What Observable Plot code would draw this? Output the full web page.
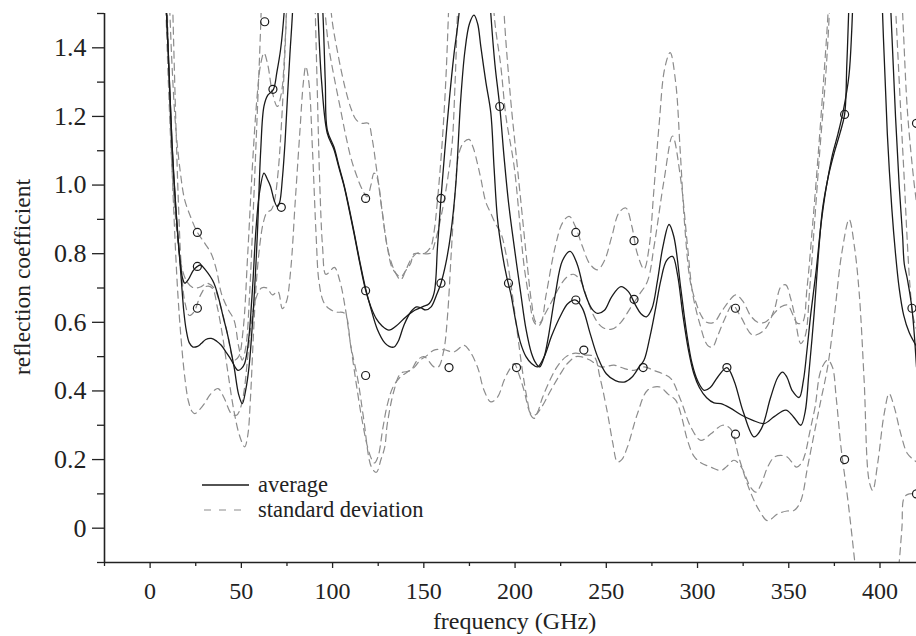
<!DOCTYPE html>
<html><head><meta charset="utf-8">
<script src="https://cdn.jsdelivr.net/npm/d3@7"></script>
<script src="https://cdn.jsdelivr.net/npm/@observablehq/plot@0.6"></script>
<style>body{margin:0;background:#fff}#chart{width:916px;height:636px}</style>
</head><body><div id="chart"></div>
<script>
// solid "average" curves: [frequency GHz, reflection coefficient]
const averageA = [[8,1.62],[10,1.38],[12,1.12],[14,0.94],[16,0.8],[17.7,0.73],[19,0.714],[21,0.725],[23.5,0.75],[25.9,0.763],[27.7,0.767],[30,0.755],[35,0.714],[40.5,0.606],[42.3,0.568],[46,0.47],[48.5,0.39],[50.5,0.363],[52.3,0.4],[54.2,0.47],[56.9,0.665],[58.8,0.86],[60.6,1.1],[62.4,1.23],[64.5,1.262],[67.5,1.278],[69.5,1.33],[71.5,1.395],[73.4,1.5],[76,1.75],[80,2.1],[84,2.2],[88,1.95],[90.5,1.7],[92,1.5],[94,1.3],[97.1,1.151],[100.8,1.103],[103.5,1.05],[106.3,0.996],[109,0.93],[111.7,0.86],[115,0.77],[118.1,0.694],[121,0.645],[124,0.61],[127,0.59],[130.9,0.577],[135,0.59],[140,0.615],[145,0.635],[149.2,0.645],[153,0.655],[155.6,0.685],[157.5,0.82],[159.4,0.96],[161.5,1.1],[164,1.25],[166.5,1.38],[169.3,1.5],[172,1.72],[176,1.95],[180,2.0],[183,1.85],[185,1.65],[186.7,1.5],[189,1.35],[191.6,1.229],[194,1.08],[196.4,0.95],[199.5,0.822],[203.1,0.685],[206,0.58],[209,0.51],[211.5,0.48],[213.5,0.47],[216,0.5],[218,0.55],[222,0.68],[226,0.78],[230.2,0.807],[234,0.77],[238,0.69],[242,0.64],[245.2,0.626],[249,0.635],[253,0.675],[258,0.704],[262,0.69],[266,0.65],[269,0.625],[272,0.616],[275,0.64],[278,0.72],[281,0.82],[284.4,0.885],[287,0.85],[290.8,0.7],[294,0.57],[297,0.48],[300,0.43],[303.6,0.402],[307,0.41],[311,0.44],[316.1,0.468],[320,0.43],[325,0.34],[331,0.266],[335,0.29],[340,0.38],[344,0.44],[346.6,0.455],[349,0.44],[352,0.4],[355.7,0.381],[358,0.43],[360,0.52],[362.1,0.626],[365,0.75],[368,0.9],[371.3,1.016],[374.9,1.094],[378,1.15],[380.6,1.206],[381.8,1.35],[382.8,1.5],[384,1.8],[388,2.4],[395,2.6],[399,1.9],[401.4,1.5],[404,1.15],[406.5,0.93],[408.5,0.8],[410.5,0.7],[413,0.62],[416,0.57],[420,0.53]];
const averageB = [[8,1.62],[10,1.38],[12,1.12],[14,0.94],[16,0.8],[17.1,0.723],[18.5,0.63],[19.8,0.577],[21.5,0.54],[23.5,0.528],[26,0.53],[28,0.538],[30.5,0.55],[33.5,0.553],[36.5,0.545],[39,0.533],[42,0.51],[44.5,0.49],[46.5,0.47],[48.1,0.46],[50,0.465],[51.8,0.48],[53.3,0.52],[54.5,0.577],[55.5,0.65],[56.4,0.723],[58,0.87],[60,0.98],[62.4,1.035],[64,1.02],[66,0.996],[68,0.955],[69.7,0.937],[71,0.95],[72.5,1.02],[74,1.13],[75.2,1.249],[76.6,1.38],[78,1.5],[80,1.75],[84,2.0],[88,2.05],[91,1.85],[93,1.65],[94.7,1.5],[96,1.3],[97.1,1.16],[100.8,1.11],[103.5,1.055],[106.3,1.0],[109,0.935],[111.7,0.865],[115,0.775],[118.1,0.698],[121,0.64],[124.5,0.58],[128.6,0.54],[131,0.53],[133.7,0.528],[136,0.545],[139,0.59],[142.8,0.63],[146,0.645],[148.5,0.642],[151,0.636],[154,0.645],[157,0.68],[159.4,0.714],[162,0.77],[164.8,0.86],[167.5,1.0],[170.2,1.248],[172.5,1.39],[175,1.47],[177.5,1.495],[179.5,1.47],[181.2,1.405],[184,1.3],[186.7,1.211],[188.5,1.05],[190.4,0.9],[193,0.8],[195.5,0.73],[197.6,0.685],[200.5,0.6],[203,0.54],[206,0.5],[209,0.48],[212.3,0.47],[216,0.5],[220,0.56],[225,0.62],[229,0.655],[233.3,0.665],[237,0.64],[241,0.57],[245.2,0.5],[250,0.45],[255,0.43],[259.8,0.426],[264,0.44],[268,0.47],[270.7,0.49],[274,0.56],[277,0.64],[279.9,0.723],[283,0.78],[286.3,0.792],[289,0.74],[292,0.62],[295,0.52],[298,0.45],[301,0.41],[305,0.38],[309,0.365],[312.8,0.363],[318,0.35],[324,0.33],[330,0.315],[336.5,0.305],[342,0.325],[348.4,0.344],[352.5,0.325],[356.6,0.3],[359,0.34],[361,0.45],[363.9,0.626],[366,0.78],[368.5,0.93],[371.3,1.016],[374,1.09],[377,1.15],[380,1.22],[383,1.32],[384.5,1.45],[385.5,1.6],[388,2.0],[396,2.2],[402,2.0],[404,1.7],[406,1.5],[408.5,1.2],[410.5,1.0],[412.4,0.85],[413.3,0.77],[415.1,0.723],[417.5,0.641],[420,0.47]];
// dashed "standard deviation" curves
const upperA = [[10,1.62],[12,1.35],[14,1.17],[16.5,1.04],[18.9,0.958],[22,0.91],[25.9,0.862],[30,0.83],[33.5,0.8],[36.5,0.75],[39,0.685],[42.5,0.64],[46,0.606],[48.5,0.53],[50.5,0.49],[52.5,0.53],[54.5,0.68],[56.5,0.92],[58.5,1.18],[60.5,1.45],[62,1.7],[66,2.2],[80,2.5],[94,2.2],[97,1.75],[99.3,1.5],[103,1.38],[107,1.28],[110.3,1.22],[113,1.19],[116,1.18],[119.5,1.18],[121.5,1.14],[124,1.05],[127,0.93],[130,0.82],[133,0.755],[137.3,0.733],[140,0.75],[142.8,0.772],[144.6,0.8],[150.1,0.8],[153.8,0.82],[155.5,0.86],[157.5,0.957],[160,1.12],[162,1.3],[163.5,1.5],[165,1.75],[175,2.3],[190,2.1],[192.5,1.75],[194,1.5],[197.6,1.249],[200,1.12],[203.1,0.956],[206.8,0.762],[209,0.66],[211.5,0.6],[214,0.6],[217,0.68],[222,0.82],[226,0.89],[229.6,0.909],[233,0.88],[237,0.82],[241,0.77],[245.2,0.753],[249,0.78],[253,0.85],[257,0.92],[260.7,0.933],[264,0.88],[267,0.8],[270.7,0.755],[273.5,0.82],[276,0.98],[279,1.18],[282,1.34],[285,1.386],[288,1.3],[290.5,1.1],[293,0.88],[296,0.72],[299,0.66],[302,0.62],[305,0.6],[309,0.6],[313,0.63],[317,0.66],[321,0.68],[325,0.66],[329,0.62],[333,0.6],[337,0.6],[341,0.62],[345.7,0.645],[349.3,0.65],[354.8,0.597],[357.5,0.6],[360,0.7],[363,0.88],[366,1.08],[369,1.3],[371.5,1.5],[373.5,1.75],[385,2.5],[400,2.5],[406,1.8],[408.7,1.5],[411.4,1.21],[413.3,1.015],[415.1,0.82],[416.5,0.7],[418,0.62],[420,0.58]];
const upperB = [[8,1.62],[10,1.3],[12,1.05],[14,0.9],[17,0.77],[20,0.72],[24,0.7],[28,0.704],[31,0.714],[35,0.7],[39,0.64],[42.3,0.568],[46,0.49],[48.5,0.5],[51,0.58],[53.5,0.8],[56,1.05],[58.5,1.25],[60.5,1.35],[62.4,1.385],[64.5,1.35],[67,1.27],[69.7,1.229],[72,1.27],[74,1.42],[75.5,1.6],[80,2.2],[90,2.3],[94,1.75],[96,1.5],[98,1.4],[101,1.31],[104,1.23],[107,1.15],[110,1.08],[113,1.03],[116,0.99],[119,0.966],[121,1.0],[122.7,1.035],[124.5,1.02],[127,0.93],[130,0.82],[133.7,0.753],[137.3,0.724],[140,0.75],[142.8,0.782],[146.5,0.802],[150,0.8],[153.8,0.802],[156.5,0.841],[160.2,0.928],[163,1.016],[165.5,1.12],[167,1.28],[168.4,1.5],[170,1.8],[180,2.4],[186,1.9],[188.5,1.5],[192.2,1.346],[195,1.2],[199.5,1.054],[203.1,0.86],[205,0.762],[208,0.66],[210.5,0.6],[213,0.59],[216,0.62],[220,0.66],[224,0.7],[228,0.73],[232,0.74],[236,0.72],[240,0.66],[244,0.61],[248,0.585],[253,0.58],[258,0.6],[263,0.64],[268,0.68],[272.6,0.72],[276.2,0.822],[281.7,1.016],[286.3,1.143],[290.8,1.016],[294.5,0.822],[297.3,0.685],[301,0.6],[305.5,0.533],[308.2,0.528],[311,0.56],[314.6,0.606],[319.2,0.65],[323.7,0.616],[330.2,0.563],[336.5,0.577],[342,0.636],[345.7,0.704],[348.4,0.709],[351,0.67],[353,0.626],[356.6,0.538],[359,0.56],[361.5,0.7],[364,0.88],[367,1.1],[370,1.3],[372.2,1.5],[374,1.8],[390,2.5],[405,2.3],[410,1.75],[412.4,1.5],[415.1,1.21],[418.8,1.0],[420,0.95]];
const lowerA = [[12,1.6],[14,1.2],[15.5,0.95],[17,0.77],[19,0.66],[21.5,0.62],[24,0.63],[27.7,0.68],[31,0.705],[34,0.7],[37,0.64],[40,0.55],[43,0.44],[46,0.34],[49,0.27],[51.8,0.237],[53.5,0.27],[55,0.38],[56.5,0.55],[58,0.7],[60,0.82],[62,0.89],[64,0.92],[66.4,0.928],[68,0.95],[70,1.03],[72,1.18],[74,1.4],[75.5,1.6],[82,2.0],[88,1.9],[90,1.6],[91.5,1.3],[93,1.0],[94.5,0.82],[96.2,0.74],[98,0.745],[101,0.76],[104,0.72],[107,0.64],[110,0.53],[113,0.42],[116,0.32],[119,0.24],[121.5,0.2],[123,0.19],[125,0.21],[127.5,0.29],[130,0.36],[133,0.41],[137,0.44],[141,0.455],[145,0.47],[148,0.49],[151,0.5],[155.6,0.519],[161,0.52],[166.6,0.514],[172,0.533],[174.8,0.519],[179.4,0.47],[183,0.402],[186.7,0.368],[190.4,0.382],[194,0.431],[196.7,0.46],[199.5,0.48],[202,0.45],[204.9,0.402],[208.6,0.334],[211,0.33],[214.1,0.349],[219.6,0.402],[225,0.451],[228.7,0.48],[233.3,0.5],[236,0.5],[241,0.49],[247,0.47],[254.3,0.475],[260,0.465],[265.2,0.46],[270.7,0.47],[276,0.46],[281,0.45],[285.4,0.436],[290.8,0.373],[296.3,0.295],[301.8,0.256],[307.3,0.275],[313.7,0.3],[318,0.29],[323,0.2],[329,0.105],[334,0.05],[338.4,0.022],[344,0.042],[349,0.05],[353,0.052],[356.6,0.08],[360.3,0.178],[363.9,0.275],[367.6,0.373],[371.3,0.47],[375,0.62],[379,0.8],[383.1,0.9],[386,0.82],[388.6,0.685],[391.3,0.431],[394,0.139],[396,0.11],[398.7,0.188],[402.3,0.334],[405,0.392],[407.8,0.353],[411.4,0.275],[415.1,0.217],[420,0.193]];
const lowerB = [[9,1.6],[11,1.2],[13,0.92],[15,0.7],[17,0.55],[19,0.44],[21,0.37],[23,0.34],[24.4,0.334],[27,0.345],[30,0.365],[33,0.39],[37.2,0.407],[40.5,0.38],[44.5,0.334],[47.3,0.329],[49.5,0.35],[51.5,0.4],[53.5,0.5],[55.5,0.6],[58,0.67],[61,0.7],[64,0.7],[67,0.68],[70,0.69],[72.5,0.64],[74.7,0.66],[77,0.75],[79.5,0.95],[82,1.15],[84,1.3],[85.3,1.346],[87,1.3],[89,1.1],[91,0.85],[92.5,0.72],[95,0.66],[98,0.64],[102,0.63],[106.6,0.626],[110,0.53],[113.9,0.431],[117,0.32],[121.3,0.178],[124,0.163],[126.5,0.2],[128.6,0.237],[130,0.305],[133.7,0.402],[137.3,0.451],[142.8,0.46],[146.5,0.49],[150.1,0.5],[155.6,0.47],[158,0.47],[161,0.52],[163,0.62],[165,0.8],[167,0.97],[169.3,1.094],[172,1.125],[174.8,1.133],[177,1.11],[179.5,1.06],[181.2,1.02],[184,0.95],[186.7,0.918],[189,0.89],[192.2,0.86],[195,0.8],[198,0.7],[201,0.58],[204,0.46],[206.5,0.38],[208.6,0.33],[210.5,0.32],[212.5,0.34],[215,0.38],[219,0.43],[223,0.47],[228,0.5],[233,0.51],[238,0.505],[243.3,0.5],[246.5,0.44],[250.7,0.334],[253.5,0.25],[256.1,0.193],[258.5,0.2],[261.6,0.237],[267.1,0.334],[272.6,0.402],[279,0.412],[284,0.39],[288,0.373],[291,0.33],[294.5,0.256],[298,0.21],[302,0.19],[307.3,0.178],[312.8,0.168],[316,0.18],[320,0.198],[324,0.178],[329,0.12],[332,0.105],[335,0.13],[338.4,0.178],[342,0.207],[345.7,0.212],[349.3,0.207],[354.3,0.178],[357,0.19],[359,0.217],[361.5,0.28],[364.4,0.353],[367.6,0.46],[371.3,0.49],[373.9,0.47],[376,0.38],[378.6,0.237],[382.2,0.09],[385.9,-0.085],[388,-0.2],[395,-0.5],[405,-0.4],[408.5,-0.2],[410.5,-0.1],[412,0.0],[413.3,0.09],[416,0.1],[420,0.1]];
// open circles
const circleFreq  = [25.9,25.9,25.9,62.8,67.3,71.9,118.1,118.1,118.1,159.4,159.4,163.8,191.6,196.4,200.8,233.3,233.3,237.7,265.2,265.2,270.2,316.1,320.8,320.8,380.6,380.6,420,417.5,420];
const circleValue = [0.862,0.763,0.641,1.476,1.279,0.935,0.961,0.692,0.445,0.961,0.714,0.468,1.229,0.714,0.468,0.862,0.665,0.519,0.838,0.667,0.468,0.468,0.641,0.274,1.206,0.2,1.18,0.641,0.1];
// axis ticks
const xMajor = [0,50,100,150,200,250,300,350,400];
const xMinor = [-25,25,75,125,175,225,275,325,375];
const yMajor = [0,0.2,0.4,0.6,0.8,1.0,1.2,1.4];
const yMinor = [-0.1,0.1,0.3,0.5,0.7,0.9,1.1,1.3,1.5];
const legendLabels = ["average","standard deviation"];

const toRows = (pts, id) => pts.map(([f, v]) => ({f, v, id}));
const avgRows = [...toRows(averageA, "A"), ...toRows(averageB, "B")];
const sdRows = [...toRows(upperA, "uA"), ...toRows(upperB, "uB"), ...toRows(lowerA, "lA"), ...toRows(lowerB, "lB")];
const circles = circleFreq.map((f, i) => ({f, v: circleValue[i]}));

const ink = "#222";
const serif = "'Liberation Serif', 'Times New Roman', serif";
const svg = Plot.plot({
  width: 916, height: 636,
  marginLeft: 104, marginRight: 0, marginTop: 13, marginBottom: 74,
  x: {domain: [-25, 420], axis: null},
  y: {domain: [-0.1, 1.5], axis: null},
  style: {fontFamily: serif, fontSize: "24px", color: ink, background: "#fff"},
  marks: [
    Plot.line(sdRows, {x: "f", y: "v", z: "id", stroke: "#8c8c8c", strokeWidth: 1.2, strokeDasharray: "7,5", curve: "catmull-rom", clip: true}),
    Plot.line(avgRows, {x: "f", y: "v", z: "id", stroke: "#1a1a1a", strokeWidth: 1.3, curve: "catmull-rom", clip: true}),
    Plot.dot(circles, {x: "f", y: "v", r: 4, stroke: "#1a1a1a", strokeWidth: 1.2, fill: "none", clip: true}),
    Plot.ruleX([-25], {stroke: ink, strokeWidth: 1.6}),
    Plot.ruleY([-0.1], {stroke: ink, strokeWidth: 1.6}),
    Plot.axisX({ticks: xMajor, tickSize: 6, tickPadding: 13, tickFormat: d => String(d), label: null, fontSize: 24, stroke: ink, strokeWidth: 1.3}),
    Plot.axisX({ticks: xMinor, tickSize: 4, tickFormat: () => "", label: null, stroke: ink, strokeWidth: 1.3}),
    Plot.axisY({ticks: yMajor, tickSize: 12, tickPadding: 6, tickFormat: d => d === 0 ? "0" : d.toFixed(1), label: null, fontSize: 26, stroke: ink, strokeWidth: 1.3}),
    Plot.axisY({ticks: yMinor, tickSize: 7, tickFormat: () => "", label: null, stroke: ink, strokeWidth: 1.3}),
    Plot.text(["frequency (GHz)"], {text: d => d, frameAnchor: "bottom", textAnchor: "middle", lineAnchor: "middle", dx: 4, dy: 59, fontSize: 24, fill: ink}),
    Plot.text(["reflection coefficient"], {text: d => d, frameAnchor: "left", textAnchor: "middle", lineAnchor: "middle", dx: -82, dy: -11, rotate: -90, fontSize: 23.5, fill: ink})
  ]
});
document.getElementById("chart").appendChild(svg);

// legend (inside the frame, lower left)
const g = d3.select(svg).append("g").attr("font-family", serif).attr("font-size", 22.5).attr("fill", ink).attr("text-anchor", "start");
g.append("line").attr("x1", 202).attr("x2", 249).attr("y1", 485).attr("y2", 485).attr("stroke", "#1a1a1a").attr("stroke-width", 1.3);
g.append("line").attr("x1", 204).attr("x2", 246).attr("y1", 510).attr("y2", 510).attr("stroke", "#8c8c8c").attr("stroke-width", 1.2).attr("stroke-dasharray", "7,8");
g.append("text").attr("x", 258).attr("y", 485).attr("dy", "0.32em").attr("text-anchor", "start").text(legendLabels[0]);
g.append("text").attr("x", 258).attr("y", 510).attr("dy", "0.32em").attr("text-anchor", "start").text(legendLabels[1]);
</script>
</body></html>
